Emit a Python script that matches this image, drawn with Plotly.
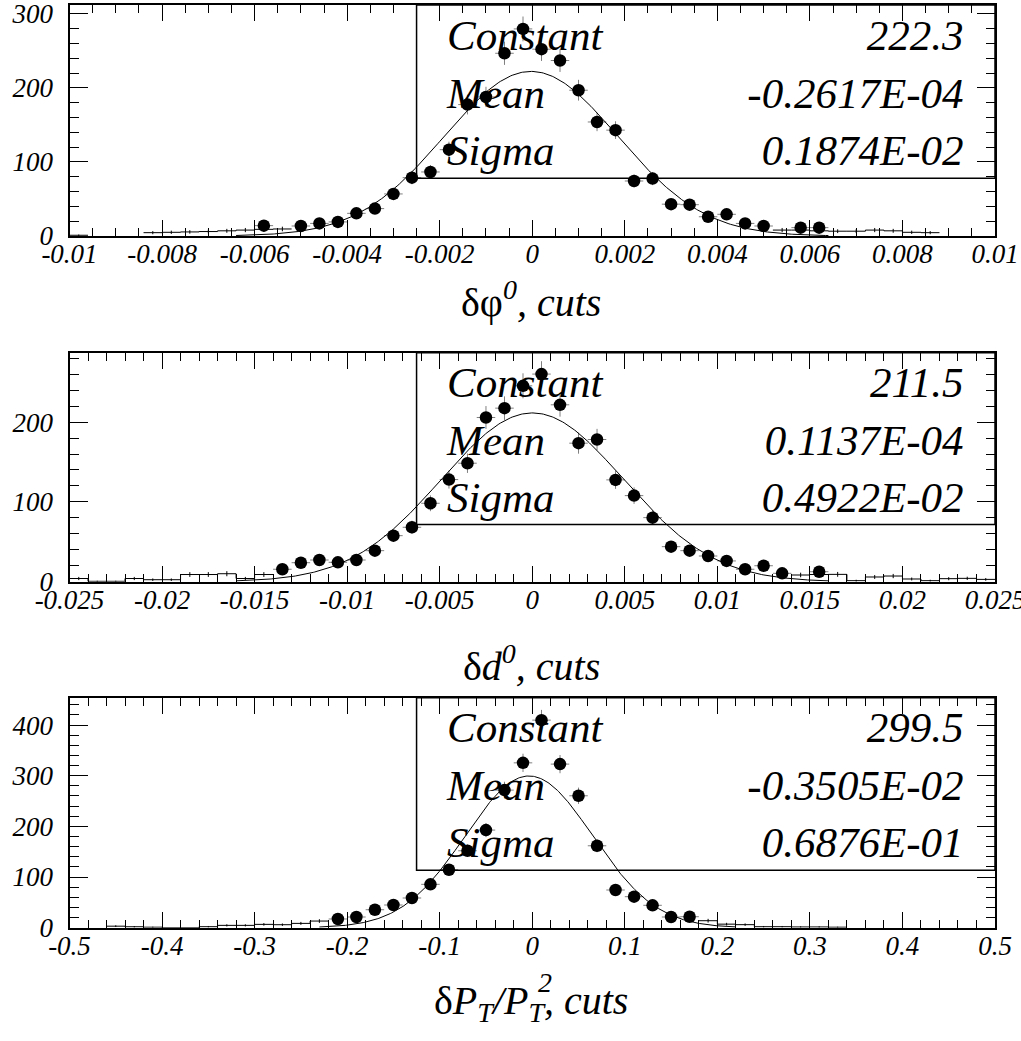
import plotly.graph_objects as go
import numpy as np

# ---------------- data ----------------
# Panel 1: delta phi0
x1 = [-0.0058, -0.0050, -0.0046, -0.0042, -0.0038, -0.0034, -0.0030, -0.0026, -0.0022, -0.0018,
      -0.0014, -0.0010, -0.0006, -0.0002, 0.0002, 0.0006, 0.0010, 0.0014, 0.0018, 0.0022,
      0.0026, 0.0030, 0.0034, 0.0038, 0.0042, 0.0046, 0.0050, 0.0058, 0.0062]
y1 = [14, 13.5, 17, 19, 30.6, 37, 56.8, 78.8, 86.5, 116.6,
      177.5, 187.8, 246.8, 279.7, 252.3, 237, 196.9, 154, 143, 74.3,
      77.5, 43, 42.3, 26, 29.3, 17, 13.5, 11.3, 11.3]
hist1_c = [-0.0098, -0.0082, -0.0078, -0.0074, -0.0070, -0.0066, -0.0062, -0.0058, -0.0054,
           0.0054, 0.0058, 0.0062, 0.0066, 0.0070, 0.0074, 0.0078, 0.0082, 0.0086]
hist1_n = [1, 4.5, 5, 5.5, 6, 7, 8, 9, 9.5,
           8, 8, 7, 6.5, 6.5, 8, 7, 5, 4.5]
fit1 = dict(const=222.3, mean=-0.2617e-04, sigma=0.1874e-02, lo=-0.0064, hi=0.0064)
stats1 = ["222.3", "-0.2617E-04", "0.1874E-02"]

# Panel 2: delta d0
x2 = [-0.0135, -0.0125, -0.0115, -0.0105, -0.0095, -0.0085, -0.0075, -0.0065, -0.0055, -0.0045,
      -0.0035, -0.0025, -0.0015, -0.0005, 0.0005, 0.0015, 0.0025, 0.0035, 0.0045, 0.0055,
      0.0065, 0.0075, 0.0085, 0.0095, 0.0105, 0.0115, 0.0125, 0.0135, 0.0155]
y2 = [15.6, 23.8, 27.2, 24.3, 27.2, 38.9, 57.7, 68.2, 98.3, 128,
      148.5, 205.8, 217.5, 245.5, 260.2, 221.7, 173.6, 178.2, 127.6, 107.9,
      80.3, 43.9, 38.9, 32.2, 26, 15.6, 20, 10.5, 12.5]
hist2_c = [-0.0245, -0.0235, -0.0225, -0.0215, -0.0205, -0.0195, -0.0185, -0.0175, -0.0165, -0.0155, -0.0145,
           0.0145, 0.0155, 0.0165, 0.0175, 0.0185, 0.0195, 0.0205, 0.0215, 0.0225, 0.0235, 0.0245]
hist2_n = [4, 0.5, 0.5, 4, 2.5, 2.5, 9, 9, 10, 4, 9,
           8.4, 9, 9.2, 1.3, 5.9, 7.1, 3.4, 1.3, 3.8, 4.2, 2.9]
fit2 = dict(const=211.5, mean=0.1137e-04, sigma=0.4922e-02, lo=-0.016, hi=0.016)
stats2 = ["211.5", "0.1137E-04", "0.4922E-02"]

# Panel 3: delta PT / PT^2
x3 = [-0.21, -0.19, -0.17, -0.15, -0.13, -0.11, -0.09, -0.07, -0.05, -0.03,
      -0.01, 0.01, 0.03, 0.05, 0.07, 0.09, 0.11, 0.13, 0.15, 0.17]
y3 = [17.2, 21.1, 35.5, 44.8, 58.6, 85.6, 114.4, 151.9, 192.7, 271.6,
      325.4, 409.7, 322.9, 260.4, 161.7, 74.4, 61.2, 44.2, 21.1, 21.7]
hist3_c = [-0.45, -0.43, -0.41, -0.39, -0.37, -0.35, -0.33, -0.31, -0.29, -0.27, -0.25, -0.23,
           0.19, 0.21, 0.23, 0.25, 0.27, 0.29, 0.31, 0.33]
hist3_n = [3, 1.9, 1, 0, 0, 2, 4.6, 4.6, 6.6, 5.9, 8.5, 13.1,
           13.8, 7, 6, 2, 2, 1.5, 1.5, 1]
fit3 = dict(const=299.5, mean=-0.3505e-02, sigma=0.6876e-01, lo=-0.23, hi=0.22)
stats3 = ["299.5", "-0.3505E-02", "0.6876E-01"]

stat_names = ["Constant", "Mean", "Sigma"]

xtick1 = [-0.01, -0.008, -0.006, -0.004, -0.002, 0, 0.002, 0.004, 0.006, 0.008, 0.01]
xlab1 = ["-0.01", "-0.008", "-0.006", "-0.004", "-0.002", "0", "0.002", "0.004", "0.006", "0.008", "0.01"]
xtick2 = [-0.025, -0.02, -0.015, -0.01, -0.005, 0, 0.005, 0.01, 0.015, 0.02, 0.025]
xlab2 = ["-0.025", "-0.02", "-0.015", "-0.01", "-0.005", "0", "0.005", "0.01", "0.015", "0.02", "0.025"]
xtick3 = [-0.5, -0.4, -0.3, -0.2, -0.1, 0, 0.1, 0.2, 0.3, 0.4, 0.5]
xlab3 = ["-0.5", "-0.4", "-0.3", "-0.2", "-0.1", "0", "0.1", "0.2", "0.3", "0.4", "0.5"]
ytick1 = [0, 100, 200, 300]
ytick2 = [0, 100, 200]
ytick3 = [0, 100, 200, 300, 400]

titles = ["δφ<i><sup>0</sup>, cuts</i>",
          "δ<i>d<sup>0</sup>, cuts</i>",
          "δ<i>P<sub>T</sub>/P<sub>T</sub>, cuts</i>"]
title3_sup = "<i>2</i>"

# ---------------- layout helpers ----------------
FONT = "Liberation Serif"
W, H = 1021, 1041
xdom = [69.5 / W, 995 / W]
ydoms = [[1 - 236 / H, 1 - 5 / H], [1 - 581.7 / H, 1 - 352.7 / H], [1 - 927.7 / H, 1 - 697.7 / H]]
yranges = [[0, 312], [0, 287], [0, 454]]
xranges = [[-0.01, 0.01], [-0.025, 0.025], [-0.5, 0.5]]
xminor = [0.0005, 0.001, 0.02]
binw = [0.0004, 0.001, 0.02]
title_y_px = [300, 663, 1003]
TITLE_SIZE = 40
TICK_SIZE = 27
STAT_ROWS = [0.852, 0.602, 0.352]

panels = [
    (x1, y1, hist1_c, hist1_n, fit1, stats1, xtick1, xlab1, ytick1),
    (x2, y2, hist2_c, hist2_n, fit2, stats2, xtick2, xlab2, ytick2),
    (x3, y3, hist3_c, hist3_n, fit3, stats3, xtick3, xlab3, ytick3),
]

fig = go.Figure()
annotations = []
shapes = []

for i, (px, py, hc, hn, fit, stats, xt, xl, yt) in enumerate(panels):
    k = i + 1
    xa = "x" if k == 1 else f"x{k}"
    ya = "y" if k == 1 else f"y{k}"
    w = binw[i]
    xlo, xhi = xranges[i]
    ylo, yhi = yranges[i]

    # stats text (as a trace, so that the points are drawn over it)
    for r in range(3):
        yc = ylo + STAT_ROWS[r] * (yhi - ylo)
        fig.add_trace(go.Scatter(x=[xlo + 0.408 * (xhi - xlo)], y=[yc], mode="text",
                                 text=[stat_names[r]], textposition="middle right",
                                 textfont=dict(family=FONT, size=43, color="black", style="italic"),
                                 xaxis=xa, yaxis=ya, showlegend=False, hoverinfo="skip"))
        fig.add_trace(go.Scatter(x=[xlo + 0.966 * (xhi - xlo)], y=[yc], mode="text",
                                 text=[stats[r]], textposition="middle left",
                                 textfont=dict(family=FONT, size=43, color="black", style="italic"),
                                 xaxis=xa, yaxis=ya, showlegend=False, hoverinfo="skip"))

    # histogram tails: split into contiguous runs
    runs = []
    cur = [0]
    for j in range(1, len(hc)):
        if hc[j] - hc[j - 1] > 1.5 * w:
            runs.append(cur)
            cur = [j]
        else:
            cur.append(j)
    runs.append(cur)
    for run in runs:
        cs = [hc[j] for j in run]
        ns = [hn[j] for j in run]
        xs = [c - w / 2 for c in cs] + [cs[-1] + w / 2]
        ys = ns + [ns[-1]]
        fig.add_trace(go.Scatter(x=xs, y=ys, mode="lines", line=dict(color="black", width=1, shape="hv"),
                                 xaxis=xa, yaxis=ya, showlegend=False, hoverinfo="skip"))
    fig.add_trace(go.Scatter(x=hc, y=hn, mode="markers", marker=dict(size=1, color="black", opacity=0),
                             error_y=dict(type="data", array=[np.sqrt(v) for v in hn], color="black",
                                          thickness=1, width=0),
                             xaxis=xa, yaxis=ya, showlegend=False, hoverinfo="skip"))

    # fit curve
    xf = np.linspace(fit["lo"], fit["hi"], 400)
    yf = fit["const"] * np.exp(-0.5 * ((xf - fit["mean"]) / fit["sigma"]) ** 2)
    fig.add_trace(go.Scatter(x=xf, y=yf, mode="lines", line=dict(color="black", width=1),
                             xaxis=xa, yaxis=ya, showlegend=False, hoverinfo="skip"))

    # data points
    fig.add_trace(go.Scatter(x=px, y=py, mode="markers",
                             marker=dict(size=12.5, color="black", symbol="circle"),
                             error_y=dict(type="data", array=[np.sqrt(v) for v in py],
                                          color="rgba(0,0,0,0.5)", thickness=1, width=0),
                             error_x=dict(type="constant", value=w / 2,
                                          color="rgba(0,0,0,0.5)", thickness=1, width=0),
                             xaxis=xa, yaxis=ya, showlegend=False))

    axis_common = dict(showline=True, linewidth=2, linecolor="black", mirror="ticks",
                       ticks="inside", tickcolor="black", tickwidth=1,
                       showgrid=False, zeroline=False, automargin=False,
                       ticklabeloverflow="allow",
                       tickfont=dict(family=FONT, size=TICK_SIZE, color="black", style="italic"))
    fig.layout[f"xaxis{'' if k == 1 else k}"] = dict(
        axis_common, domain=xdom, range=xranges[i], anchor=ya,
        tickmode="array", tickvals=xt, ticktext=xl, ticklen=16, ticklabelstandoff=-7,
        minor=dict(tickmode="linear", tick0=xlo, dtick=xminor[i], ticklen=8,
                   ticks="inside", tickcolor="black", tickwidth=1, showgrid=False))
    fig.layout[f"yaxis{'' if k == 1 else k}"] = dict(
        axis_common, domain=ydoms[i], range=yranges[i], anchor=xa,
        tickmode="array", tickvals=yt, ticktext=[str(v) for v in yt], ticklen=18, ticklabelstandoff=9,
        minor=dict(tickmode="linear", tick0=0, dtick=20, ticklen=9,
                   ticks="inside", tickcolor="black", tickwidth=1, showgrid=False))

    # stats box
    shapes.append(dict(type="rect", xref=f"{xa} domain", yref=f"{ya} domain",
                       x0=0.375, x1=1.0, y0=0.25, y1=1.0,
                       line=dict(color="black", width=1.5), layer="below"))
    # axis title
    annotations.append(dict(xref="paper", yref="paper", x=531 / W, y=1 - title_y_px[i] / H,
                            xanchor="center", yanchor="middle", showarrow=False, text=titles[i],
                            font=dict(family=FONT, size=TITLE_SIZE, color="black")))

# stacked superscript "2" above the second subscript T of the third title
annotations.append(dict(xref="paper", yref="paper", x=545 / W, y=1 - 982 / H,
                        xanchor="center", yanchor="middle", showarrow=False, text=title3_sup,
                        font=dict(family=FONT, size=int(TITLE_SIZE * 0.7), color="black")))

fig.update_layout(width=W, height=H, margin=dict(l=0, r=0, t=0, b=0),
                  paper_bgcolor="white", plot_bgcolor="white",
                  annotations=annotations, shapes=shapes, showlegend=False)

fig.write_html("out.html")
